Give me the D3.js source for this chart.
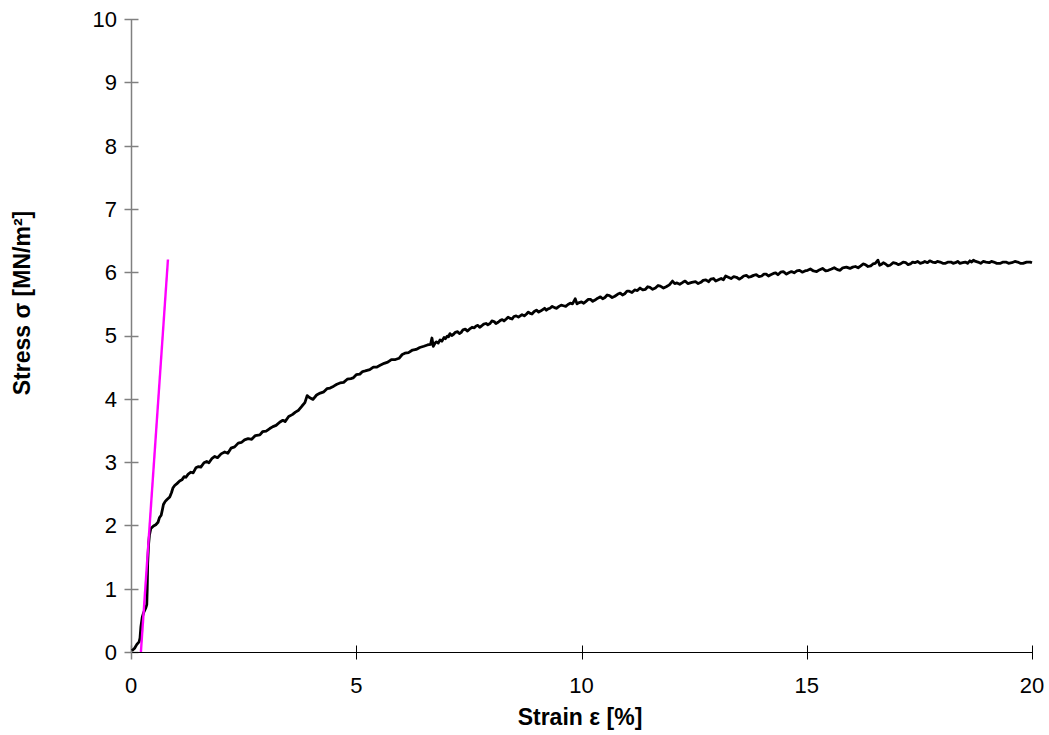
<!DOCTYPE html>
<html>
<head>
<meta charset="utf-8">
<script src="https://cdn.jsdelivr.net/npm/d3@7"></script>
<style>
  html, body { margin: 0; padding: 0; background: #fff; }
  svg { display: block; }
  text { font-family: "Liberation Sans", Arial, sans-serif; }
</style>
</head>
<body>
<svg id="chart" width="1049" height="735"></svg>
<script>
// Measured stress–strain curve: strain ε [%], stress σ [MN/m²]
const strain = [
  0.02,0.08,0.13,0.18,0.20,0.22,0.25,0.28,0.33,0.35,0.36,0.37,0.39,0.41,0.44,0.50,0.55,0.60,0.63,0.67,
  0.70,0.72,0.76,0.80,0.86,0.90,0.93,0.97,1.02,1.08,1.13,1.18,1.22,1.27,1.33,1.38,1.44,1.50,1.55,1.62,
  1.68,1.73,1.80,1.86,1.92,2.00,2.08,2.15,2.22,2.30,2.38,2.45,2.52,2.60,2.68,2.76,2.86,2.92,3.00,3.08,
  3.15,3.22,3.30,3.37,3.42,3.50,3.58,3.65,3.72,3.80,3.86,3.91,3.96,4.04,4.12,4.20,4.28,4.35,4.42,4.50,
  4.57,4.64,4.72,4.80,4.88,4.93,5.00,5.08,5.14,5.20,5.30,5.38,5.45,5.53,5.62,5.70,5.78,5.87,5.95,6.02,
  6.08,6.16,6.25,6.33,6.41,6.50,6.58,6.65,6.68,
  6.71,6.75,6.78,6.82,6.86,6.90,6.95,6.98,7.02,7.05,
  7.08,7.12,7.16,7.20,7.25,7.29,7.33,7.37,7.42,7.47,
  7.53,7.57,7.62,7.66,7.70,7.74,7.78,7.83,7.88,7.92,
  7.97,8.01,8.06,8.10,8.15,8.20,8.24,8.28,8.33,8.37,
  8.42,8.46,8.50,8.55,8.60,8.64,8.68,8.73,8.78,8.82,
  8.86,8.90,8.95,9.00,9.05,9.10,9.14,9.18,9.22,9.26,
  9.30,9.35,9.40,9.45,9.50,9.55,9.60,9.65,9.70,9.75,
  9.80,9.86,9.90,9.95,10.00,10.05,10.10,10.15,10.20,10.25,
  10.30,10.36,10.42,10.47,10.52,10.57,10.62,10.68,10.74,10.80,
  10.86,10.91,10.96,11.01,11.06,11.12,11.18,11.24,11.30,11.36,
  11.42,11.47,11.52,11.58,11.64,11.70,11.75,11.82,11.88,11.95,
  12.02,12.07,12.12,12.18,12.25,12.30,12.36,12.45,12.53,12.59,
  12.65,12.70,12.76,12.82,12.87,12.93,12.98,13.04,13.10,13.15,
  13.20,13.26,13.32,13.38,13.44,13.50,13.55,13.60,13.66,13.71,
  13.76,13.82,13.88,13.94,14.00,14.05,14.10,14.15,14.20,14.26,
  14.31,14.36,14.42,14.48,14.55,14.60,14.66,14.72,14.78,14.84,
  14.90,14.96,15.02,15.08,15.15,15.22,15.29,15.35,15.42,15.48,
  15.55,15.61,15.68,15.74,15.80,15.88,15.96,16.02,16.08,16.14,
  16.20,16.25,16.30,16.36,16.42,16.47,16.52,16.58,16.62,16.65,
  16.70,16.75,16.80,16.85,16.92,16.98,17.03,17.08,17.14,17.20,
  17.25,17.30,17.35,17.40,17.46,17.52,17.57,17.62,17.68,17.73,
  17.79,17.85,17.90,17.96,18.02,18.08,18.14,18.20,18.25,18.30,
  18.35,18.40,18.46,18.52,18.57,18.62,18.66,18.70,18.75,18.80,
  18.86,18.92,18.98,19.05,19.10,19.15,19.22,19.30,19.36,19.42,
  19.48,19.55,19.62,19.68,19.74,19.80,19.88,19.96,20.00
];
const stress = [
  0.02,0.06,0.12,0.16,0.22,0.40,0.55,0.62,0.70,0.75,1.00,1.40,1.70,1.85,1.95,1.99,2.01,2.05,2.12,2.16,
  2.26,2.33,2.38,2.41,2.45,2.52,2.59,2.63,2.66,2.70,2.72,2.77,2.76,2.81,2.84,2.83,2.91,2.93,2.92,2.99,
  3.01,2.99,3.06,3.09,3.07,3.13,3.16,3.14,3.22,3.24,3.30,3.31,3.35,3.37,3.36,3.42,3.43,3.48,3.49,3.53,
  3.56,3.58,3.63,3.66,3.64,3.72,3.75,3.79,3.82,3.89,3.94,4.05,4.02,3.99,4.06,4.09,4.11,4.16,4.17,4.20,
  4.23,4.25,4.26,4.31,4.32,4.33,4.38,4.39,4.43,4.44,4.46,4.50,4.50,4.53,4.56,4.58,4.62,4.62,4.64,4.70,
  4.72,4.73,4.77,4.78,4.81,4.83,4.85,4.86,4.96,
  4.83,4.88,4.90,4.88,4.93,4.91,4.97,4.95,4.99,4.98,
  5.03,5.00,5.02,5.05,5.06,5.03,5.05,5.09,5.10,5.07,
  5.11,5.13,5.12,5.15,5.16,5.13,5.15,5.18,5.19,5.17,
  5.19,5.23,5.22,5.19,5.21,5.24,5.25,5.23,5.26,5.29,
  5.27,5.26,5.30,5.31,5.29,5.31,5.33,5.31,5.34,5.37,
  5.35,5.34,5.38,5.40,5.37,5.39,5.41,5.43,5.40,5.42,
  5.43,5.46,5.44,5.43,5.46,5.48,5.47,5.46,5.49,5.51,
  5.50,5.58,5.50,5.52,5.53,5.51,5.54,5.57,5.57,5.54,
  5.56,5.59,5.61,5.58,5.60,5.64,5.63,5.60,5.62,5.65,
  5.67,5.64,5.66,5.70,5.70,5.68,5.72,5.71,5.75,5.72,
  5.73,5.77,5.76,5.73,5.75,5.79,5.78,5.75,5.77,5.80,
  5.86,5.82,5.83,5.81,5.84,5.86,5.82,5.84,5.85,5.82,
  5.84,5.87,5.88,5.85,5.89,5.90,5.86,5.88,5.90,5.88,
  5.94,5.92,5.90,5.93,5.92,5.89,5.91,5.94,5.95,5.92,
  5.93,5.95,5.96,5.93,5.94,5.97,5.97,5.94,5.96,5.98,
  5.99,5.96,6.00,6.01,5.97,5.99,6.01,5.99,6.02,6.03,
  6.00,6.02,6.03,6.05,6.02,6.01,6.04,6.06,6.02,6.03,
  6.05,6.07,6.04,6.03,6.07,6.08,6.06,6.08,6.09,6.07,
  6.10,6.13,6.12,6.09,6.10,6.13,6.14,6.19,6.11,6.12,
  6.15,6.13,6.10,6.11,6.15,6.14,6.12,6.13,6.16,6.15,
  6.12,6.13,6.16,6.15,6.17,6.14,6.15,6.17,6.15,6.18,
  6.16,6.15,6.17,6.16,6.14,6.14,6.16,6.16,6.14,6.15,
  6.17,6.14,6.15,6.16,6.14,6.18,6.16,6.19,6.17,6.16,
  6.14,6.17,6.16,6.15,6.17,6.16,6.14,6.14,6.16,6.16,
  6.14,6.15,6.17,6.16,6.14,6.14,6.16,6.16,6.15
];

// Elastic (Young's modulus) tangent line
const tangentStrain = [0.22, 0.82];
const tangentStress = [0.0, 6.2];

const xTicks = [0, 5, 10, 15, 20];
const yTicks = [0, 1, 2, 3, 4, 5, 6, 7, 8, 9, 10];

const svg = d3.select("#chart");
const x = d3.scaleLinear().domain([0, 20]).range([131, 1032]);
const y = d3.scaleLinear().domain([0, 10]).range([652, 19]);

// y axis (grey, ticks crossing the line)
const yAxis = svg.append("g").attr("transform", "translate(131.5,0)");
yAxis.append("line").attr("y1", y(10)).attr("y2", y(0))
  .attr("stroke", "#808080").attr("stroke-width", 1.5);
yAxis.selectAll("line.tick").data(yTicks).join("line")
  .attr("class", "tick")
  .attr("x1", -7).attr("x2", 7)
  .attr("y1", d => Math.round(y(d)) + 0.5).attr("y2", d => Math.round(y(d)) + 0.5)
  .attr("stroke", "#808080").attr("stroke-width", 1.5);
yAxis.selectAll("text").data(yTicks).join("text")
  .attr("x", -14.5).attr("y", d => y(d)).attr("dy", "0.36em")
  .attr("text-anchor", "end").attr("font-size", 22).attr("fill", "#000")
  .text(d => d);

// x axis (black)
const xAxis = svg.append("g").attr("transform", "translate(0,652.5)");
xAxis.append("line").attr("x1", x(0)).attr("x2", x(20))
  .attr("stroke", "#000").attr("stroke-width", 1);
xAxis.selectAll("line.tick").data(xTicks).join("line")
  .attr("class", "tick")
  .attr("x1", d => Math.round(x(d)) + 0.5).attr("x2", d => Math.round(x(d)) + 0.5)
  .attr("y1", -7).attr("y2", 7)
  .attr("stroke", d => d === 0 ? "#808080" : "#000").attr("stroke-width", d => d === 0 ? 1.5 : 1);
xAxis.selectAll("text").data(xTicks).join("text")
  .attr("x", d => x(d)).attr("y", 40.5)
  .attr("text-anchor", "middle").attr("font-size", 22).attr("fill", "#000")
  .text(d => d);

// axis titles
svg.append("text")
  .attr("x", 580).attr("y", 725)
  .attr("text-anchor", "middle").attr("font-size", 23).attr("font-weight", "bold")
  .text("Strain ε [%]");
svg.append("text")
  .attr("transform", "translate(30,303) rotate(-90)")
  .attr("text-anchor", "middle").attr("font-size", 23).attr("font-weight", "bold")
  .text("Stress σ [MN/m²]");

// measured curve
const n = Math.min(strain.length, stress.length);
const pts = d3.range(n).map(i => [strain[i], stress[i]]);
svg.append("path").datum(pts)
  .attr("fill", "none").attr("stroke", "#000").attr("stroke-width", 2.8)
  .attr("stroke-linejoin", "round")
  .attr("d", d3.line().x(d => x(d[0])).y(d => y(d[1])));

// tangent line
const tan = tangentStrain.map((s, i) => [s, tangentStress[i]]);
svg.append("path").datum(tan)
  .attr("fill", "none").attr("stroke", "#ff00ff").attr("stroke-width", 2.4)
  .attr("d", d3.line().x(d => x(d[0])).y(d => y(d[1])));
</script>
</body>
</html>
